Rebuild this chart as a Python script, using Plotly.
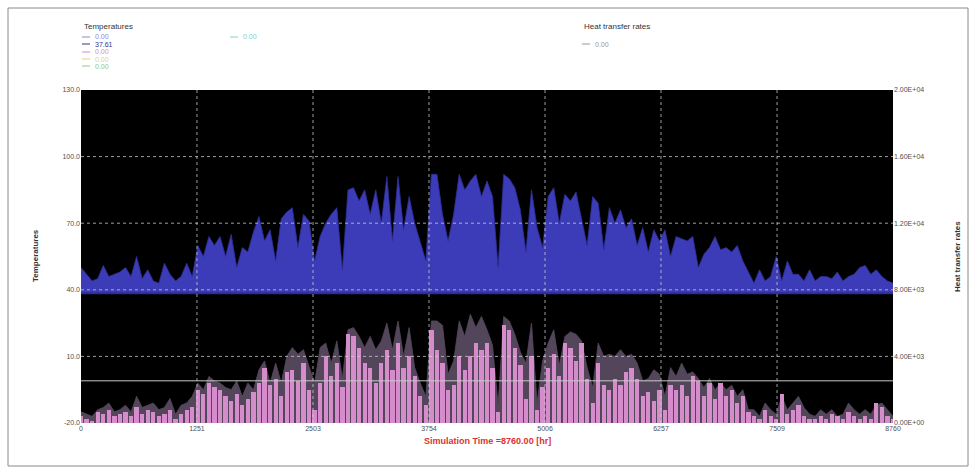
import plotly.graph_objects as go

# ---------------- data ----------------
STEP_HR = 60
BLUE_TEMP = [50,47,44,45,51,46,47,48,50,46,55,45,49,44,43,52,47,44,46,52,46,60,55,64,60,64,55,65,50,59,57,66,73,62,67,53,72,75,
             77,59,74,71,53,64,70,74,77,49,85,86,80,85,74,85,70,91,62,91,67,82,70,61,53,92,92,74,62,74,92,85,89,92,82,89,
             82,50,92,90,86,76,57,85,68,59,82,86,70,83,80,84,72,60,82,79,58,77,70,76,68,72,60,68,57,67,62,67,55,64,63,62,
             64,50,56,59,64,58,59,57,60,53,48,43,49,44,46,55,44,53,47,47,44,49,44,46,46,45,48,44,46,47,50,51,47,49,46,44,43]
PINK_TEMP = [-17,-18,-19,-15,-16,-14,-17,-16,-15,-17,-13,-16,-14,-15,-17,-16,-14,-18,-16,-14,-13,-5,-7,-2,-4,-5,-8,-10,-7,-12,-9,-6,-2,5,-3,0,-8,3,
             4,-1,7,-5,-14,-2,10,1,7,-4,20,19,14,7,5,-2,7,13,4,16,5,10,1,-8,-12,22,13,7,-5,-3,10,4,10,16,13,16,
             5,-15,24,22,14,6,-9,10,-14,-4,5,11,1,16,14,8,16,0,-11,7,-3,-5,0,-3,3,5,0,-8,-6,-10,-5,-14,-3,-5,-3,-8,
             1,-1,-8,-2,-9,-2,-8,-5,-11,-8,-15,-17,-18,-14,-17,-18,-7,-16,-14,-12,-17,-18,-18,-17,-18,-16,-17,-18,-15,-17,-18,-17,-18,-11,-13,-17,-18]
HEAT_RATE = [670,530,400,800,930,1200,670,800,1070,670,1600,930,1070,1200,800,930,1470,530,1070,1200,1600,2400,2000,2800,2530,2400,2130,2000,2530,1600,2400,2000,3200,3730,2400,3600,2400,4000,
             4530,4130,4400,3330,2400,4530,4800,3600,4930,2670,5600,5730,5200,4530,5200,4400,4930,6000,4400,6130,4000,5730,3330,2400,1600,6130,6130,5870,2930,3730,6130,5200,6530,5730,6400,5600,
             4670,1070,6400,6130,5330,4270,3600,6000,1200,3730,4800,5600,3470,5200,5470,5330,4930,3330,2130,4800,4000,4130,4000,4400,4000,4130,3600,2530,2670,3200,2930,1600,3330,2800,3600,2930,
             3070,2670,2130,2670,2000,2400,2000,2270,1600,2000,800,800,400,1200,800,530,1600,800,1200,1600,930,530,400,800,530,800,400,530,1200,800,530,800,530,1070,1200,800,400]
HOURS = [i * STEP_HR for i in range(len(BLUE_TEMP))]
BASE_TEMP = [38.5] * len(HOURS)        # dark-blue series (37.61 at end)
FLAT_TEMP = [-1.0] * len(HOURS)        # flat light line

X_TICKS = [0, 1251, 2503, 3754, 5006, 6257, 7509, 8760]
X_TICKTEXT = ["0", "1251", "2503", "3754", "5006", "6257", "7509", "8760"]
T_TICKS = [-20, 10, 40, 70, 100, 130]
T_TICKTEXT = ["-20.0", "10.0", "40.0", "70.0", "100.0", "130.0"]
Q_TICKS = [0, 4000, 8000, 12000, 16000, 20000]
Q_TICKTEXT = ["0.00E+00", "4.00E+03", "8.00E+03", "1.20E+04", "1.60E+04", "2.00E+04"]

TEMP_LEGEND = ["0.00", "37.61", "0.00", "0.00", "0.00"]
TEMP_LEGEND_COLORS = ["#8a8ad8", "#343490", "#dd88cc", "#e0d870", "#8cc88c"]
TEMP_LEGEND2 = "0.00"
TEMP_LEGEND2_COLOR = "#88cccc"
HEAT_LEGEND = "0.00"
HEAT_LEGEND_COLOR = "#999999"

T_MIN, T_MAX = -20, 130
Q_MIN, Q_MAX = 0, 20000

# ---------------- layout geometry ----------------
W, H = 977, 474
L, R, T, B = 81, 893, 90, 423

def px(x):
    return (x - L) / (R - L)

def py(y):
    return (B - y) / (B - T)

FONT = "Liberation Sans, Arial, sans-serif"
TICK_COLOR = "#505050"

fig = go.Figure()

# heat transfer rate (right axis, base subplot -> drawn below)
fig.add_trace(go.Scatter(x=HOURS, y=HEAT_RATE, yaxis="y", mode="lines",
                         line=dict(color="#54465a", width=0.8), fill="tozeroy",
                         fillcolor="#54465a", hoverinfo="skip"))
# pink temperature bars
fig.add_trace(go.Bar(x=HOURS, y=[v - T_MIN for v in PINK_TEMP], base=T_MIN, yaxis="y2",
                     width=46, marker=dict(color="#d48ccb", line=dict(width=0)),
                     hoverinfo="skip"))
# blue temperature filled above baseline
fig.add_trace(go.Scatter(x=HOURS, y=BASE_TEMP, yaxis="y2", mode="lines",
                         line=dict(color="#2c2c9a", width=2), hoverinfo="skip"))
fig.add_trace(go.Scatter(x=HOURS, y=BLUE_TEMP, yaxis="y2", mode="lines",
                         line=dict(color="#2e2e98", width=0.8), fill="tonexty",
                         fillcolor="#3c3cb8", hoverinfo="skip"))
# flat line
fig.add_trace(go.Scatter(x=HOURS, y=FLAT_TEMP, yaxis="y2", mode="lines",
                         line=dict(color="#c8c8c8", width=1), hoverinfo="skip"))

shapes = []
# dotted grid on top of data
for xv in X_TICKS[1:-1]:
    shapes.append(dict(type="line", xref="x", yref="paper", x0=xv, x1=xv, y0=0, y1=1,
                       line=dict(color="rgba(210,210,210,0.75)", width=1, dash="dot"), layer="above"))
for tv in T_TICKS[1:-1]:
    shapes.append(dict(type="line", xref="paper", yref="y2", x0=0, x1=1, y0=tv, y1=tv,
                       line=dict(color="rgba(210,210,210,0.75)", width=1, dash="dot"), layer="above"))
# outer frame
shapes.append(dict(type="rect", xref="paper", yref="paper", x0=px(8), x1=px(968), y0=py(466), y1=py(8),
                   line=dict(color="#888888", width=1), fillcolor="rgba(0,0,0,0)", layer="below"))

annotations = []
def txt(x, y, s, color="#444444", size=7, xanchor="left", **kw):
    annotations.append(dict(x=px(x), y=py(y), xref="paper", yref="paper", text=s, showarrow=False,
                            xanchor=xanchor, yanchor="middle", font=dict(family=FONT, size=size, color=color), **kw))

def leg_line(x0, y, color):
    shapes.append(dict(type="line", xref="paper", yref="paper", x0=px(x0), x1=px(x0 + 8), y0=py(y), y1=py(y),
                       line=dict(color=color, width=1)))

txt(82, 27, "Temperatures", "#333333", 8)
rows_y = [37, 44, 52, 59, 66]
for yy, lab, col in zip(rows_y, TEMP_LEGEND, TEMP_LEGEND_COLORS):
    leg_line(82, yy, col)
    txt(93, yy, lab, col, 7)
leg_line(230, 37, TEMP_LEGEND2_COLOR)
txt(241, 37, TEMP_LEGEND2, TEMP_LEGEND2_COLOR, 7)
txt(582, 27, "Heat transfer rates", "#333333", 8)
leg_line(582, 44, HEAT_LEGEND_COLOR)
txt(593, 44, HEAT_LEGEND, HEAT_LEGEND_COLOR, 7)

# axis titles
txt(35, 256, "<b>Temperatures</b>", "#333333", 8, xanchor="center", textangle=-90)
txt(957, 256, "<b>Heat transfer rates</b>", "#333333", 8, xanchor="center", textangle=-90)
txt(487, 441, "<b>Simulation Time =8760.00 [hr]</b>", "#e03030", 9, xanchor="center")

fig.update_layout(
    width=W, height=H,
    margin=dict(l=L, r=W - R, t=T, b=H - B),
    paper_bgcolor="white", plot_bgcolor="black",
    showlegend=False, barmode="overlay", bargap=0,
    font=dict(family=FONT, size=7, color=TICK_COLOR),
    xaxis=dict(range=[0, 8760], tickvals=X_TICKS, ticktext=X_TICKTEXT, showgrid=False,
               zeroline=False, showline=False, ticks="", tickfont=dict(size=7, color=TICK_COLOR)),
    yaxis=dict(range=[Q_MIN, Q_MAX], side="right", tickvals=Q_TICKS, ticktext=Q_TICKTEXT,
               showgrid=False, zeroline=False, ticks="", tickfont=dict(size=7, color=TICK_COLOR)),
    yaxis2=dict(range=[T_MIN, T_MAX], side="left", overlaying="y", tickvals=T_TICKS, ticktext=T_TICKTEXT,
                showgrid=False, zeroline=False, ticks="", tickfont=dict(size=7, color=TICK_COLOR)),
    shapes=shapes, annotations=annotations,
)

fig.write_html("out.html", config={"displayModeBar": False},
               post_script="document.body.style.margin='0';document.body.style.overflow='hidden';")
